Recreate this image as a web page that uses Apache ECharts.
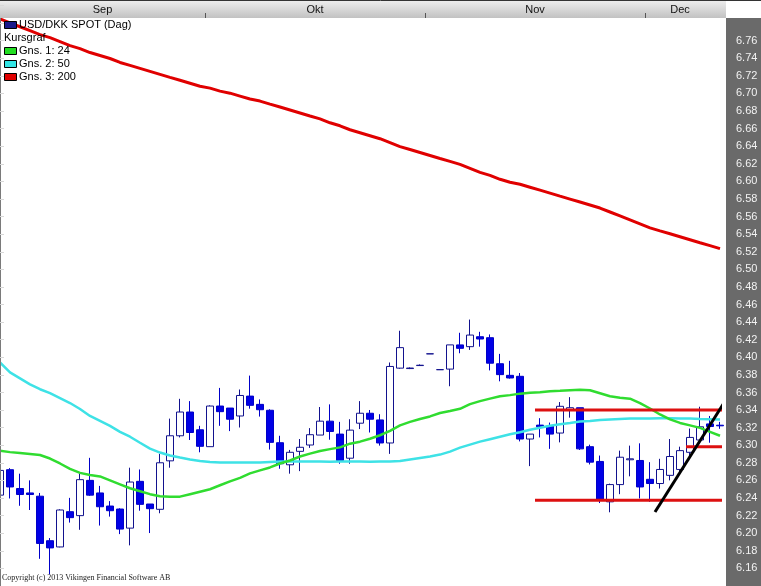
<!DOCTYPE html>
<html><head><meta charset="utf-8">
<script src="https://cdn.jsdelivr.net/npm/echarts@6/dist/echarts.min.js"></script>
<style>html,body{margin:0;padding:0;background:#fff;overflow:hidden}#c{width:761px;height:586px}</style>
</head><body><div id="c"></div><script>
// ---- data ----
const months = ['Sep', 'Okt', 'Nov', 'Dec'];
const monthDays = [21, 22, 22, 8];
const monthBoundaries = [20.5, 42.5, 64.5];
const monthLabelPos = [10.25, 31.5, 53.5, 68];

const openV = [6.2433,6.2722,6.2508,6.2458,6.2421,6.1915,6.1844,6.2245,6.2200,6.2601,
6.2458,6.2309,6.2275,6.2058,6.2590,6.2332,6.2272,6.2823,6.3108,6.3378,
6.3176,6.2984,6.3446,6.3423,6.3333,6.3559,6.3465,6.3398,6.3029,6.2778,
6.2931,6.3003,6.3116,6.3274,6.3127,6.2853,6.3251,6.3364,6.3288,6.3026,
6.3877,6.3872,6.3906,6.4039,6.3859,6.3866,6.4141,6.4121,6.4234,6.4223,
6.3927,6.3795,6.3784,6.3071,6.3229,6.3217,6.3139,6.3398,6.3427,6.2984,
6.2816,6.2357,6.2553,6.2835,6.2827,6.2613,6.2565,6.2658,6.2725,6.2920,
6.3060,6.3243,6.3228];
const closeV = [6.2714,6.2526,6.2440,6.2440,6.1884,6.1833,6.2264,6.2177,6.2609,6.2433,
6.2301,6.2256,6.2047,6.2582,6.2328,6.2279,6.2801,6.3108,6.3378,6.3145,
6.2988,6.3446,6.3382,6.3296,6.3566,6.3454,6.3404,6.3033,6.2790,6.2920,
6.2977,6.3120,6.3274,6.3157,6.2827,6.3172,6.3364,6.3296,6.3026,6.3896,
6.4110,6.3878,6.3910,6.4040,6.3860,6.4141,6.4102,6.4253,6.4208,6.3933,
6.3803,6.3765,6.3071,6.3127,6.3210,6.3127,6.3443,6.3427,6.2959,6.2808,
6.2388,6.2553,6.2864,6.2846,6.2526,6.2565,6.2725,6.2872,6.2939,6.3089,
6.3210,6.3213,6.3221];
const highV = [6.2771,6.2740,6.2677,6.2601,6.2458,6.1945,6.2272,6.2402,6.2677,6.2857,
6.2538,6.2365,6.2283,6.2745,6.2725,6.2332,6.2902,6.3303,6.3528,6.3502,
6.3221,6.3454,6.3652,6.3423,6.3634,6.3792,6.3521,6.3409,6.3108,6.2947,
6.3071,6.3195,6.3435,6.3465,6.3266,6.3296,6.3502,6.3401,6.3353,6.3941,
6.4302,6.3885,6.3919,6.4040,6.3860,6.4141,6.4279,6.4429,6.4290,6.4260,
6.4039,6.3960,6.3821,6.3127,6.3308,6.3258,6.3491,6.3547,6.3427,6.3007,
6.2883,6.2564,6.2939,6.2996,6.3022,6.2808,6.2846,6.3071,6.2984,6.3190,
6.3438,6.3333,6.3266];
const lowV = [6.2399,6.2395,6.2312,6.2264,6.1709,6.1532,6.1840,6.2121,6.2039,6.2425,
6.2087,6.2189,6.1990,6.1862,6.2256,6.2002,6.2227,6.2745,6.3089,6.3060,
6.2920,6.2984,6.3221,6.3161,6.3202,6.3416,6.3326,6.2951,6.2733,6.2677,
6.2706,6.2970,6.3116,6.3063,6.2790,6.2790,6.3184,6.3145,6.2996,6.2902,
6.3870,6.3866,6.3904,6.4039,6.3859,6.3671,6.4046,6.4084,6.4121,6.3851,
6.3727,6.3758,6.3044,6.2763,6.3089,6.2959,6.3033,6.3314,6.2947,6.2782,
6.2343,6.2238,6.2444,6.2647,6.2395,6.2357,6.2508,6.2601,6.2677,6.2853,
6.3029,6.3029,6.3187];

const ma24 = [6.2939,6.2922,6.2911,6.2900,6.2889,6.2849,6.2793,6.2731,6.2686,6.2663,
6.2646,6.2601,6.2556,6.2511,6.2478,6.2444,6.2421,6.2416,6.2416,6.2444,
6.2472,6.2500,6.2545,6.2590,6.2630,6.2680,6.2714,6.2748,6.2793,6.2827,
6.2872,6.2905,6.2934,6.2956,6.2976,6.3018,6.3041,6.3074,6.3114,6.3164,
6.3226,6.3266,6.3299,6.3328,6.3367,6.3390,6.3415,6.3468,6.3502,6.3530,
6.3558,6.3570,6.3587,6.3598,6.3603,6.3615,6.3620,6.3626,6.3632,6.3626,
6.3592,6.3558,6.3541,6.3530,6.3480,6.3418,6.3350,6.3294,6.3254,6.3226,
6.3198,6.3153,6.3108];
const ma50 = [6.3941,6.3829,6.3761,6.3693,6.3637,6.3592,6.3536,6.3480,6.3412,6.3333,
6.3277,6.3221,6.3153,6.3097,6.3029,6.2962,6.2917,6.2883,6.2860,6.2838,
6.2821,6.2810,6.2804,6.2804,6.2804,6.2804,6.2804,6.2810,6.2815,6.2815,
6.2815,6.2816,6.2815,6.2814,6.2815,6.2816,6.2815,6.2814,6.2815,6.2816,
6.2821,6.2838,6.2855,6.2872,6.2894,6.2928,6.2973,6.3007,6.3041,6.3069,
6.3097,6.3125,6.3148,6.3176,6.3198,6.3221,6.3238,6.3254,6.3271,6.3277,
6.3288,6.3294,6.3299,6.3303,6.3305,6.3305,6.3307,6.3307,6.3305,6.3303,
6.3299,6.3296,6.3292];
const ma200 = [6.7848,6.7803,6.7758,6.7713,6.7668,6.7634,6.7589,6.7544,6.7510,6.7465,
6.7431,6.7397,6.7352,6.7319,6.7285,6.7251,6.7217,6.7183,6.7150,6.7116,
6.7082,6.7060,6.7026,6.7003,6.6970,6.6936,6.6913,6.6879,6.6846,6.6812,
6.6778,6.6744,6.6711,6.6666,6.6632,6.6587,6.6553,6.6519,6.6485,6.6440,
6.6395,6.6362,6.6328,6.6294,6.6260,6.6227,6.6193,6.6148,6.6103,6.6069,
6.6024,6.5990,6.5968,6.5934,6.5900,6.5866,6.5832,6.5799,6.5765,6.5731,
6.5697,6.5652,6.5607,6.5562,6.5517,6.5472,6.5438,6.5405,6.5371,6.5337,
6.5303,6.5270,6.5236];

// drawn annotations (in candle-index / price units)
const levelFrom = [53.5, 68.6, 53.5];
const levelTo = [72.6, 72.6, 72.6];
const levelPrice = [6.3400, 6.2984, 6.2376];
const trendX = [65.5, 72.6];
const trendY = [6.2241, 6.3518];

const yMin = 6.14, yMax = 6.80, yStep = 0.02;
const legendNames = ['USD/DKK SPOT (Dag)', 'Kursgraf', 'Gns. 1: 24', 'Gns. 2: 50', 'Gns. 3: 200'];
const copyright = 'Copyright (c) 2013 Vikingen Financial Software AB';

// ---- build ----
const categories = [];
months.forEach((m, i) => {
  for (let d = 1; d <= monthDays[i]; d++) categories.push(m + ' ' + d);
});
const candles = openV.map((o, i) => [o, closeV[i], lowV[i], highV[i]]);

const FONT = '"Liberation Sans", Arial, sans-serif';
const chart = echarts.init(document.getElementById('c'), null, {renderer: 'canvas'});

const legendColors = ['#1a1a8a', null, '#22dd22', '#33e5e5', '#e00000'];
const legendEls = [];
legendNames.forEach((n, i) => {
  const cy = 25 + i * 13;
  if (legendColors[i]) {
    legendEls.push({type: 'rect', z: 120, shape: {x: 4.5, y: cy - 3.5, width: 12, height: 7},
      style: {fill: legendColors[i], stroke: '#000', lineWidth: 1}});
  }
  legendEls.push({type: 'text', z: 120, x: legendColors[i] ? 19 : 4, y: cy,
    style: {text: n, font: '11px ' + FONT, fill: '#000', textVerticalAlign: 'middle', verticalAlign: 'middle'}});
});

const seriesList = [
  {type: 'candlestick', data: candles, barWidth: 7, clip: false,
   itemStyle: {color: '#ffffff', color0: '#0000e6', borderColor: '#12128e', borderColor0: '#0000c8', borderWidth: 1}},
  {type: 'line', data: ma200, symbol: 'none', lineStyle: {color: '#e00000', width: 3}},
  {type: 'line', data: ma50, symbol: 'none', lineStyle: {color: '#3ee2e6', width: 2.5}},
  {type: 'line', data: ma24, symbol: 'none', lineStyle: {color: '#30dc30', width: 2.5}}
];
levelPrice.forEach((p, i) => {
  seriesList.push({type: 'line', xAxisIndex: 1, symbol: 'none', clip: false,
    data: [[levelFrom[i], p], [levelTo[i], p]], lineStyle: {color: '#dd1010', width: 3}});
});
seriesList.push({type: 'line', xAxisIndex: 1, symbol: 'none', clip: false,
  data: trendX.map((x, i) => [x, trendY[i]]), lineStyle: {color: '#000000', width: 3}});

chart.setOption({
  animation: false,
  backgroundColor: '#ffffff',
  grid: {left: 0, width: 720, top: 5.47, height: 586.3, containLabel: false},
  xAxis: [
    {type: 'category', data: categories, boundaryGap: false, show: false},
    {type: 'value', min: 0, max: 72, position: 'top', offset: -12.53, z: 100,
     axisLine: {show: false},
     axisTick: {show: true, length: 5, inside: false, customValues: monthBoundaries,
       lineStyle: {color: '#555', width: 1}},
     axisLabel: {show: true, margin: 3, color: '#111', fontSize: 11, fontFamily: FONT,
       customValues: monthLabelPos,
       formatter: (v) => months[monthLabelPos.indexOf(v)] || ''},
     splitLine: {show: false}}
  ],
  yAxis: {type: 'value', position: 'right', offset: 6, min: yMin, max: yMax, interval: yStep, z: 100,
    axisLine: {show: false},
    axisTick: {show: true, length: 4, lineStyle: {color: '#d8d8d8'}},
    axisLabel: {color: '#f2f2f2', fontSize: 11, fontFamily: FONT, margin: 10,
      formatter: (v) => (v > 6.765 || v < 6.155) ? '' : v.toFixed(2)},
    splitLine: {show: false}},
  graphic: [
    {type: 'rect', z: 90, shape: {x: 0, y: 0, width: 726, height: 18},
     style: {fill: new echarts.graphic.LinearGradient(0, 0, 0, 1, [
       {offset: 0, color: '#efefef'}, {offset: 1, color: '#c2c2c2'}])}},
    {type: 'rect', z: 90, shape: {x: 726, y: 0, width: 35, height: 18}, style: {fill: '#ffffff'}},
    {type: 'rect', z: 90, shape: {x: 726, y: 18, width: 35, height: 568}, style: {fill: '#6a6a6a'}},
    {type: 'line', z: 95, shape: {x1: 0, y1: 0.5, x2: 761, y2: 0.5}, style: {stroke: '#333', lineWidth: 1}},
    {type: 'line', z: 95, shape: {x1: 0.5, y1: 18, x2: 0.5, y2: 586}, style: {stroke: '#7a7a7a', lineWidth: 1}},
    ...legendEls,
    {type: 'text', z: 120, x: 2, y: 578,
     style: {text: copyright, font: '8px "Liberation Serif", "Times New Roman", serif', fill: '#222',
       textVerticalAlign: 'middle', verticalAlign: 'middle'}}
  ],
  series: seriesList
});
</script></body></html>
